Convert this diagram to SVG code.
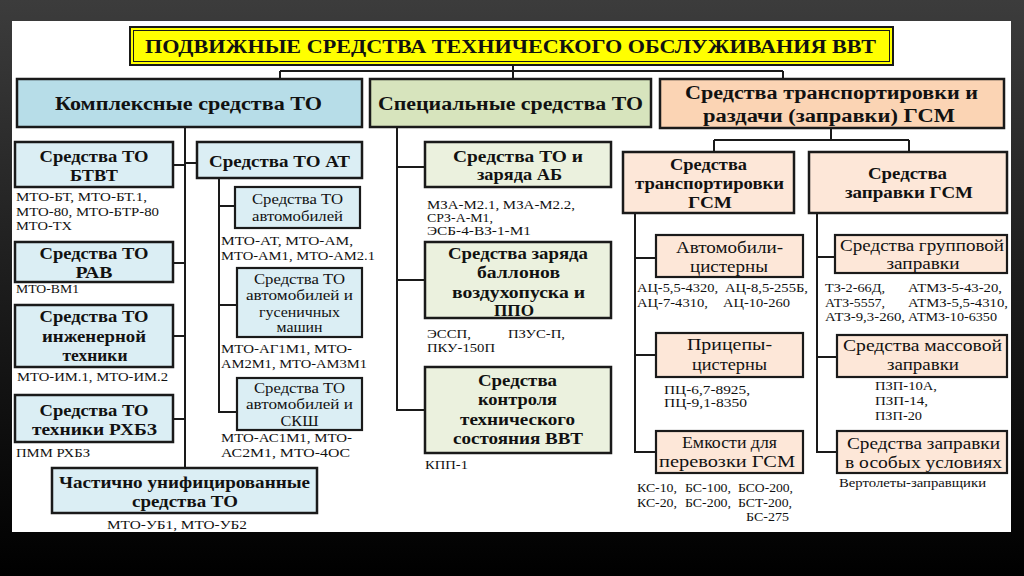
<svg xmlns="http://www.w3.org/2000/svg" width="1024" height="576" viewBox="0 0 1024 576" font-family="'Liberation Serif', 'Times New Roman', serif">
<defs>
<linearGradient id="bg" x1="0" y1="0" x2="0" y2="1">
<stop offset="0" stop-color="#3c3c3c"/>
<stop offset="0.5" stop-color="#1c1c1c"/>
<stop offset="1" stop-color="#000"/>
</linearGradient>
</defs>
<style>
.box{stroke:#1a1a1a;stroke-width:2.5}
.sb{stroke:#1a1a1a;stroke-width:2.2}
.blue1{fill:#b7dde8}.blue2{fill:#dbeef4}
.olive1{fill:#d7e4bd}.olive2{fill:#ebf1de}
.peach1{fill:#fbd4b4}.peach2{fill:#fde7d8}
text{font-family:"Liberation Serif","Times New Roman",serif;fill:#111}
.b{font-weight:bold}
.c{text-anchor:middle}
.f18{font-size:18px}.f17{font-size:17px}.f16{font-size:16px}.f15{font-size:15px}.f13{font-size:13px}.f12{font-size:12.5px}.f11{font-size:12px}
.conn{fill:none;stroke:#1a1a1a;stroke-width:2}
</style>
<rect x="0" y="0" width="1024" height="576" fill="url(#bg)"/>
<rect x="12" y="21" width="999" height="511" fill="#fff"/>

<g id="connectors" class="conn">
<path d="M513 65 V79 M280 71 H783 M280 71 V79 M783 71 V79"/>
<path d="M185 127 V468 M173 165 H185 M173 263 H185 M173 336 H185 M173 419 H185 M185 163 H197"/>
<path d="M219 178 V412 H237 M219 206 H235 M219 305 H237"/>
<path d="M397 127 V410 H425 M397 167 H425 M397 280 H425"/>
<path d="M831 128 V140 M714 140 H909 M714 140 V152 M909 140 V152"/>
<path d="M635 213 V452 H656 M635 258 H656 M635 355 H656"/>
<path d="M817 213 V452 H837 M817 257 H835 M817 357 H837"/>
</g>

<g id="title">
<rect x="130" y="27" width="763" height="38" fill="#ffff00" stroke="#1a1a1a" stroke-width="2"/>
<rect x="133.5" y="30.5" width="756" height="31" fill="none" stroke="#1a1a1a" stroke-width="1"/>
<text class="b c f18" x="510.5" y="53" textLength="731" lengthAdjust="spacingAndGlyphs">ПОДВИЖНЫЕ СРЕДСТВА ТЕХНИЧЕСКОГО ОБСЛУЖИВАНИЯ ВВТ</text>
</g>

<g id="complex">
<rect class="box blue1" x="17" y="79" width="345" height="48"/>
<text class="b c f18" x="188.5" y="110" textLength="267" lengthAdjust="spacingAndGlyphs">Комплексные средства ТО</text>
</g>
<g id="special">
<rect class="box olive1" x="370" y="79" width="281" height="48"/>
<text class="b c f18" x="510.5" y="110" textLength="265" lengthAdjust="spacingAndGlyphs">Специальные средства ТО</text>
</g>
<g id="fuel">
<rect class="box peach1" x="660" y="79" width="344" height="49"/>
<text class="b c f18" x="831.5" y="99" textLength="293" lengthAdjust="spacingAndGlyphs">Средства транспортировки и</text>
<text class="b c f18" x="829" y="122" textLength="252" lengthAdjust="spacingAndGlyphs">раздачи (заправки) ГСМ</text>
</g>

<g id="btvt">
<rect class="box blue2" x="15" y="142" width="158" height="45"/>
<text class="b c f17" x="94" y="162" textLength="109" lengthAdjust="spacingAndGlyphs">Средства ТО</text>
<text class="b c f17" x="94" y="181" textLength="48" lengthAdjust="spacingAndGlyphs">БТВТ</text>
<text class="f13" x="16" y="201" textLength="131" lengthAdjust="spacingAndGlyphs">МТО-БТ, МТО-БТ.1,</text>
<text class="f13" x="16" y="216" textLength="143" lengthAdjust="spacingAndGlyphs">МТО-80, МТО-БТР-80</text>
<text class="f13" x="16" y="230" textLength="56" lengthAdjust="spacingAndGlyphs">МТО-ТХ</text>
</g>
<g id="rav">
<rect class="box blue2" x="15" y="242" width="158" height="40"/>
<text class="b c f17" x="94" y="259" textLength="109" lengthAdjust="spacingAndGlyphs">Средства ТО</text>
<text class="b c f17" x="94" y="278" textLength="37" lengthAdjust="spacingAndGlyphs">РАВ</text>
<text class="f13" x="16" y="293" textLength="63" lengthAdjust="spacingAndGlyphs">МТО-ВМ1</text>
</g>
<g id="eng">
<rect class="box blue2" x="15" y="305" width="158" height="62"/>
<text class="b c f17" x="94" y="322" textLength="109" lengthAdjust="spacingAndGlyphs">Средства ТО</text>
<text class="b c f17" x="94" y="342" textLength="104" lengthAdjust="spacingAndGlyphs">инженерной</text>
<text class="b c f17" x="95" y="361" textLength="65" lengthAdjust="spacingAndGlyphs">техники</text>
<text class="f13" x="17" y="381" textLength="151" lengthAdjust="spacingAndGlyphs">МТО-ИМ.1, МТО-ИМ.2</text>
</g>
<g id="rhbz">
<rect class="box blue2" x="15" y="395" width="158" height="47"/>
<text class="b c f17" x="94" y="416" textLength="109" lengthAdjust="spacingAndGlyphs">Средства ТО</text>
<text class="b c f17" x="94.5" y="435" textLength="125" lengthAdjust="spacingAndGlyphs">техники РХБЗ</text>
<text class="f13" x="16" y="457" textLength="74" lengthAdjust="spacingAndGlyphs">ПММ РХБЗ</text>
</g>
<g id="unified">
<rect class="box blue2" x="52" y="468" width="265" height="45"/>
<text class="b c f17" x="184.5" y="488" textLength="251" lengthAdjust="spacingAndGlyphs">Частично унифицированные</text>
<text class="b c f17" x="185" y="507" textLength="106" lengthAdjust="spacingAndGlyphs">средства ТО</text>
<text class="f13" x="107" y="529" textLength="140" lengthAdjust="spacingAndGlyphs">МТО-УБ1,  МТО-УБ2</text>
</g>
<g id="at">
<rect class="box blue2" x="197" y="142" width="165" height="36"/>
<text class="b c f17" x="279.5" y="167" textLength="141" lengthAdjust="spacingAndGlyphs">Средства ТО АТ</text>
</g>
<g id="auto">
<rect class="sb blue2" x="235" y="187" width="125" height="41"/>
<text class="c f15" x="297.5" y="204" textLength="91" lengthAdjust="spacingAndGlyphs">Средства ТО</text>
<text class="c f15" x="297.5" y="221" textLength="91" lengthAdjust="spacingAndGlyphs">автомобилей</text>
<text class="f13" x="221" y="245" textLength="132" lengthAdjust="spacingAndGlyphs">МТО-АТ, МТО-АМ,</text>
<text class="f13" x="221" y="260" textLength="154" lengthAdjust="spacingAndGlyphs">МТО-АМ1, МТО-АМ2.1</text>
</g>
<g id="tracked">
<rect class="sb blue2" x="237" y="268" width="125" height="69"/>
<text class="c f15" x="299.5" y="284" textLength="91" lengthAdjust="spacingAndGlyphs">Средства ТО</text>
<text class="c f15" x="299.5" y="300" textLength="107" lengthAdjust="spacingAndGlyphs">автомобилей и</text>
<text class="c f15" x="299.5" y="317" textLength="81" lengthAdjust="spacingAndGlyphs">гусеничных</text>
<text class="c f15" x="299.5" y="332" textLength="46" lengthAdjust="spacingAndGlyphs">машин</text>
<text class="f13" x="221" y="353" textLength="131" lengthAdjust="spacingAndGlyphs">МТО-АГ1М1, МТО-</text>
<text class="f13" x="221" y="368" textLength="146" lengthAdjust="spacingAndGlyphs">АМ2М1, МТО-АМ3М1</text>
</g>
<g id="sksh">
<rect class="sb blue2" x="237" y="378" width="125" height="52"/>
<text class="c f15" x="299.5" y="393" textLength="91" lengthAdjust="spacingAndGlyphs">Средства ТО</text>
<text class="c f15" x="299.5" y="409" textLength="107" lengthAdjust="spacingAndGlyphs">автомобилей и</text>
<text class="c f15" x="299.5" y="426" textLength="38" lengthAdjust="spacingAndGlyphs">СКШ</text>
<text class="f13" x="221" y="442" textLength="131" lengthAdjust="spacingAndGlyphs">МТО-АС1М1, МТО-</text>
<text class="f13" x="221" y="457" textLength="129" lengthAdjust="spacingAndGlyphs">АС2М1, МТО-4ОС</text>
</g>

<g id="ab">
<rect class="box olive2" x="425" y="142" width="186" height="45"/>
<text class="b c f16" x="518" y="162" textLength="130" lengthAdjust="spacingAndGlyphs">Средства ТО и</text>
<text class="b c f16" x="519.5" y="180" textLength="85" lengthAdjust="spacingAndGlyphs">заряда АБ</text>
<text class="f11" x="427" y="209" textLength="148" lengthAdjust="spacingAndGlyphs">МЗА-М2.1, МЗА-М2.2,</text>
<text class="f11" x="427" y="222" textLength="66" lengthAdjust="spacingAndGlyphs">СРЗ-А-М1,</text>
<text class="f11" x="427" y="235" textLength="104" lengthAdjust="spacingAndGlyphs">ЭСБ-4-ВЗ-1-М1</text>
</g>
<g id="air">
<rect class="box olive2" x="425" y="242" width="186" height="76"/>
<text class="b c f16" x="518" y="259" textLength="140" lengthAdjust="spacingAndGlyphs">Средства заряда</text>
<text class="b c f16" x="518.5" y="278" textLength="83" lengthAdjust="spacingAndGlyphs">баллонов</text>
<text class="b c f16" x="518.5" y="298" textLength="133" lengthAdjust="spacingAndGlyphs">воздухопуска и</text>
<text class="b c f16" x="514" y="316" textLength="40" lengthAdjust="spacingAndGlyphs">ППО</text>
<text class="f12" x="427" y="338" textLength="44" lengthAdjust="spacingAndGlyphs">ЭССП,</text>
<text class="f12" x="508" y="338" textLength="57" lengthAdjust="spacingAndGlyphs">ПЗУС-П,</text>
<text class="f12" x="427" y="352" textLength="68" lengthAdjust="spacingAndGlyphs">ПКУ-150П</text>
</g>
<g id="control">
<rect class="box olive2" x="425" y="367" width="186" height="86"/>
<text class="b c f16" x="517.5" y="386" textLength="79" lengthAdjust="spacingAndGlyphs">Средства</text>
<text class="b c f16" x="517.5" y="405" textLength="79" lengthAdjust="spacingAndGlyphs">контроля</text>
<text class="b c f16" x="517.5" y="425" textLength="115" lengthAdjust="spacingAndGlyphs">технического</text>
<text class="b c f16" x="518" y="444" textLength="130" lengthAdjust="spacingAndGlyphs">состояния ВВТ</text>
<text class="f12" x="425" y="469" textLength="43" lengthAdjust="spacingAndGlyphs">КПП-1</text>
</g>

<g id="transport">
<rect class="box peach2" x="623" y="152" width="171" height="61"/>
<text class="b c f16" x="708.5" y="170" textLength="77" lengthAdjust="spacingAndGlyphs">Средства</text>
<text class="b c f16" x="709.5" y="189" textLength="149" lengthAdjust="spacingAndGlyphs">транспортировки</text>
<text class="b c f16" x="710" y="208" textLength="44" lengthAdjust="spacingAndGlyphs">ГСМ</text>
</g>
<g id="refuel">
<rect class="box peach2" x="809" y="152" width="198" height="61"/>
<text class="b c f16" x="907.5" y="179" textLength="79" lengthAdjust="spacingAndGlyphs">Средства</text>
<text class="b c f16" x="909" y="198" textLength="128" lengthAdjust="spacingAndGlyphs">заправки ГСМ</text>
</g>
<g id="tankers">
<rect class="sb peach2" x="656" y="235" width="147" height="42"/>
<text class="c f17" x="729.5" y="253" textLength="107" lengthAdjust="spacingAndGlyphs">Автомобили-</text>
<text class="c f17" x="729" y="272" textLength="78" lengthAdjust="spacingAndGlyphs">цистерны</text>
<text class="f12" x="637" y="292" textLength="81" lengthAdjust="spacingAndGlyphs">АЦ-5,5-4320,</text>
<text class="f12" x="725" y="292" textLength="83" lengthAdjust="spacingAndGlyphs">АЦ-8,5-255Б,</text>
<text class="f12" x="637" y="307" textLength="71" lengthAdjust="spacingAndGlyphs">АЦ-7-4310,</text>
<text class="f12" x="723" y="307" textLength="67" lengthAdjust="spacingAndGlyphs">АЦ-10-260</text>
</g>
<g id="trailers">
<rect class="sb peach2" x="656" y="333" width="147" height="44"/>
<text class="c f17" x="729.5" y="350" textLength="85" lengthAdjust="spacingAndGlyphs">Прицепы-</text>
<text class="c f17" x="729.5" y="370" textLength="75" lengthAdjust="spacingAndGlyphs">цистерны</text>
<text class="f12" x="664" y="394" textLength="86" lengthAdjust="spacingAndGlyphs">ПЦ-6,7-8925,</text>
<text class="f12" x="664" y="407" textLength="83" lengthAdjust="spacingAndGlyphs">ПЦ-9,1-8350</text>
</g>
<g id="containers">
<rect class="sb peach2" x="656" y="431" width="147" height="42"/>
<text class="c f17" x="729.5" y="448" textLength="95" lengthAdjust="spacingAndGlyphs">Емкости для</text>
<text class="c f17" x="727" y="467" textLength="136" lengthAdjust="spacingAndGlyphs">перевозки ГСМ</text>
<text class="f12" x="637" y="492" textLength="40" lengthAdjust="spacingAndGlyphs">КС-10,</text>
<text class="f12" x="685" y="492" textLength="46" lengthAdjust="spacingAndGlyphs">БС-100,</text>
<text class="f12" x="738" y="492" textLength="55" lengthAdjust="spacingAndGlyphs">БСО-200,</text>
<text class="f12" x="637" y="507" textLength="40" lengthAdjust="spacingAndGlyphs">КС-20,</text>
<text class="f12" x="685" y="507" textLength="46" lengthAdjust="spacingAndGlyphs">БС-200,</text>
<text class="f12" x="738" y="507" textLength="54" lengthAdjust="spacingAndGlyphs">БСТ-200,</text>
<text class="f12" x="746" y="521" textLength="43" lengthAdjust="spacingAndGlyphs">БС-275</text>
</g>
<g id="group">
<rect class="sb peach2" x="835" y="235" width="172" height="38"/>
<text class="c f17" x="922" y="251" textLength="164" lengthAdjust="spacingAndGlyphs">Средства групповой</text>
<text class="c f17" x="923" y="269" textLength="73" lengthAdjust="spacingAndGlyphs">заправки</text>
<text class="f12" x="825" y="292" textLength="60" lengthAdjust="spacingAndGlyphs">ТЗ-2-66Д,</text>
<text class="f12" x="908" y="292" textLength="94" lengthAdjust="spacingAndGlyphs">АТМЗ-5-43-20,</text>
<text class="f12" x="825" y="307" textLength="60" lengthAdjust="spacingAndGlyphs">АТЗ-5557,</text>
<text class="f12" x="908" y="307" textLength="100" lengthAdjust="spacingAndGlyphs">АТМЗ-5,5-4310,</text>
<text class="f12" x="825" y="321" textLength="80" lengthAdjust="spacingAndGlyphs">АТЗ-9,3-260,</text>
<text class="f12" x="908" y="321" textLength="89" lengthAdjust="spacingAndGlyphs">АТМЗ-10-6350</text>
</g>
<g id="mass">
<rect class="sb peach2" x="837" y="335" width="170" height="42"/>
<text class="c f17" x="922.5" y="351" textLength="159" lengthAdjust="spacingAndGlyphs">Средства массовой</text>
<text class="c f17" x="923" y="370" textLength="72" lengthAdjust="spacingAndGlyphs">заправки</text>
<text class="f12" x="875" y="390" textLength="62" lengthAdjust="spacingAndGlyphs">ПЗП-10А,</text>
<text class="f12" x="875" y="405" textLength="53" lengthAdjust="spacingAndGlyphs">ПЗП-14,</text>
<text class="f12" x="875" y="420" textLength="47" lengthAdjust="spacingAndGlyphs">ПЗП-20</text>
</g>
<g id="special-cond">
<rect class="sb peach2" x="837" y="431" width="170" height="42"/>
<text class="c f17" x="923.5" y="449" textLength="153" lengthAdjust="spacingAndGlyphs">Средства заправки</text>
<text class="c f17" x="923.5" y="468" textLength="157" lengthAdjust="spacingAndGlyphs">в особых условиях</text>
<text class="f12" x="839" y="487" textLength="147" lengthAdjust="spacingAndGlyphs">Вертолеты-заправщики</text>
</g>
</svg>
